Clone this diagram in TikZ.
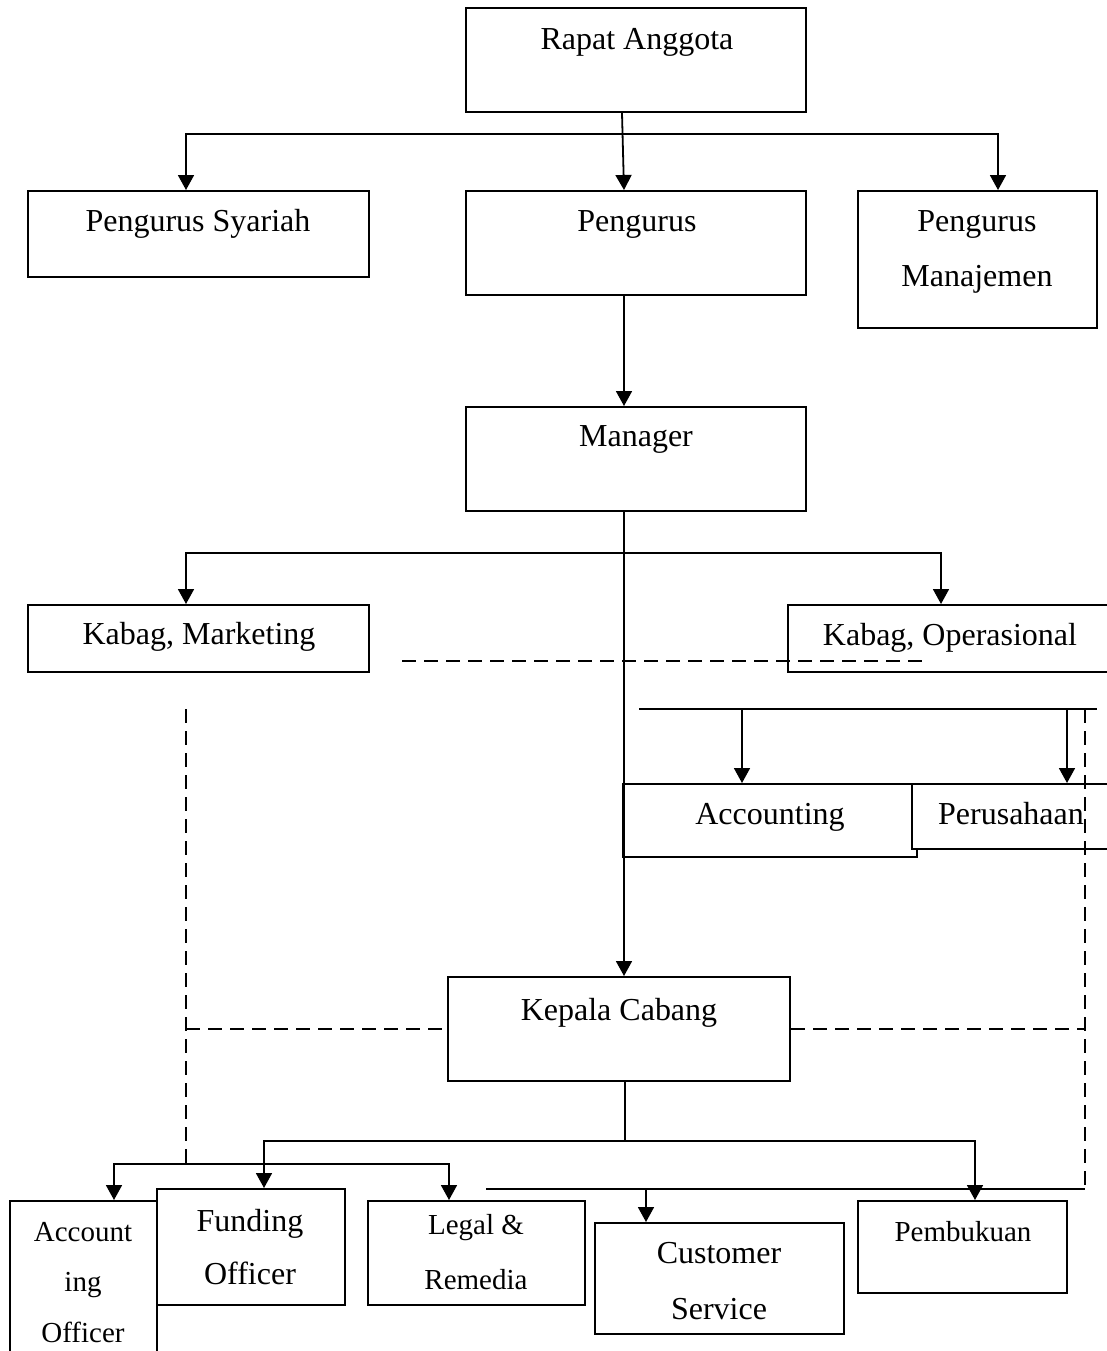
\documentclass[tikz,border=0pt]{standalone}
\usepackage{fontspec}
\setmainfont{Liberation Serif}
\usetikzlibrary{arrows.meta,fit}
\tikzset{
  box/.style={draw, line width=1pt, inner sep=0pt},
  lbl/.style={anchor=base, inner sep=0pt, font=\fontsize{16}{19}\selectfont},
  sml/.style={anchor=base, inner sep=0pt, font=\fontsize{14.5}{17}\selectfont},
  conn/.style={line width=0.9pt},
  arr/.style={conn, -{Triangle[length=7.5pt,width=8pt]}},
  arrtwo/.style={conn, {Triangle[length=7.5pt,width=8pt]}-{Triangle[length=7.5pt,width=8pt]}},
  dsh/.style={line width=0.9pt, dash pattern=on 7pt off 4pt},
}
\newcommand\mkbox[6][]{%
  \coordinate (#2-a) at (#3,#4);
  \coordinate (#2-b) at (#5,#6);
  \node[box, fit=(#2-a)(#2-b), #1] (#2) {};}
\begin{document}
\begin{tikzpicture}[x=0.5pt, y=-0.5pt]
\clip (0,0) rectangle (1107,1351);
\fill[white] (0,0) rectangle (1107,1351);

% boxes
\mkbox{ra}{466}{8}{806}{112}
\mkbox{ps}{28}{191}{369}{277}
\mkbox{pg}{466}{191}{806}{295}
\mkbox{pm}{858}{191}{1097}{328}
\mkbox{mg}{466}{407}{806}{511}
\mkbox{km}{28}{605}{369}{672}
\mkbox{ko}{788}{605}{1140}{672}
\mkbox{ac}{623}{784}{917}{857}
\mkbox[fill=white]{pr}{912}{784}{1140}{849}
\mkbox{kc}{448}{977}{790}{1081}
\mkbox{ao}{10}{1201}{157}{1380}
\mkbox{fo}{157}{1189}{345}{1305}
\mkbox{lr}{368}{1201}{585}{1305}
\mkbox{cs}{595}{1223}{844}{1334}
\mkbox{pb}{858}{1201}{1067}{1293}

% texts
\node[lbl] (t-ra) at (637,49) {Rapat Anggota};
\node[lbl] (t-ps) at (198,231) {Pengurus Syariah};
\node[lbl] (t-pg) at (637,231) {Pengurus};
\node[lbl] (t-pm1) at (977,231) {Pengurus};
\node[lbl] (t-pm2) at (977,286) {Manajemen};
\node[lbl] (t-mg) at (636,446) {Manager};
\node[lbl] (t-km) at (199,644) {Kabag, Marketing};
\node[lbl] (t-ko) at (950,645) {Kabag, Operasional};
\node[lbl] (t-ac) at (770,824) {Accounting};
\node[lbl] (t-pr) at (1011,824) {Perusahaan};
\node[lbl] (t-kc) at (619,1020) {Kepala Cabang};
\node[sml] (t-ao1) at (83,1241) {Account};
\node[sml] (t-ao2) at (83,1291) {ing};
\node[sml] (t-ao3) at (83,1342) {Officer};
\node[lbl] (t-fo1) at (250,1231) {Funding};
\node[lbl] (t-fo2) at (250,1284) {Officer};
\node[sml] (t-lr1) at (476,1234) {Legal \&};
\node[sml] (t-lr2) at (476,1289) {Remedia};
\node[lbl] (t-cs1) at (719,1263) {Customer};
\node[lbl] (t-cs2) at (719,1319) {Service};
\node[sml] (t-pb) at (963,1241) {Pembukuan};

% junction coordinates
\coordinate (vx) at (624,0);
\coordinate (h1l) at (186,134);
\coordinate (h1r) at (998,134);
\coordinate (h2l) at (186,553);
\coordinate (h2r) at (941,553);
\coordinate (d1a) at (402,661);
\coordinate (d1b) at (925,661);
\coordinate (d2top) at (186,709);
\coordinate (d2bot) at (186,1164);
\coordinate (h3l) at (639,709);
\coordinate (h3r) at (1097,709);
\coordinate (a1) at (742,709);
\coordinate (a2) at (1067,709);
\coordinate (d3top) at (1085,709);
\coordinate (d3bot) at (1085,1189);
\coordinate (j4) at (625,1141);
\coordinate (h4l) at (264,1141);
\coordinate (h4r) at (975,1141);
\coordinate (h5l) at (114,1164);
\coordinate (h5r) at (449,1164);
\coordinate (h6l) at (486,1189);
\coordinate (a3) at (646,1189);

% connectors
\draw[arr] (ra.south -| 622,0) -- (pg.north -| vx);
\draw[arrtwo] (ps.north -| h1l) -- (h1l) -- (h1r) -- (pm.north -| h1r);
\draw[arr] (pg.south -| vx) -- (mg.north -| vx);
\draw[arr] (mg.south -| vx) -- (kc.north -| vx);
\draw[arrtwo] (km.north -| h2l) -- (h2l) -- (h2r) -- (ko.north -| h2r);
\draw[dsh] (d1a) -- (d1b);
\draw[dsh] (d2top) -- (d2bot);
\draw[dsh] (kc.west -| d2top) -- (kc.west);
\draw[dsh] (kc.east) -- (kc.east -| d3top);
\draw[conn] (h3l) -- (h3r);
\draw[arr] (a1) -- (ac.north -| a1);
\draw[arr] (a2) -- (pr.north -| a2);
\draw[dsh] (d3top) -- (d3bot);
\draw[conn] (kc.south -| j4) -- (j4);
\draw[arrtwo] (fo.north -| h4l) -- (h4l) -- (h4r) -- (pb.north -| h4r);
\draw[arrtwo] (ao.north -| h5l) -- (h5l) -- (h5r) -- (lr.north -| h5r);
\draw[conn] (h6l) -- (d3bot);
\draw[arr] (a3) -- (cs.north -| a3);
\end{tikzpicture}
\end{document}
